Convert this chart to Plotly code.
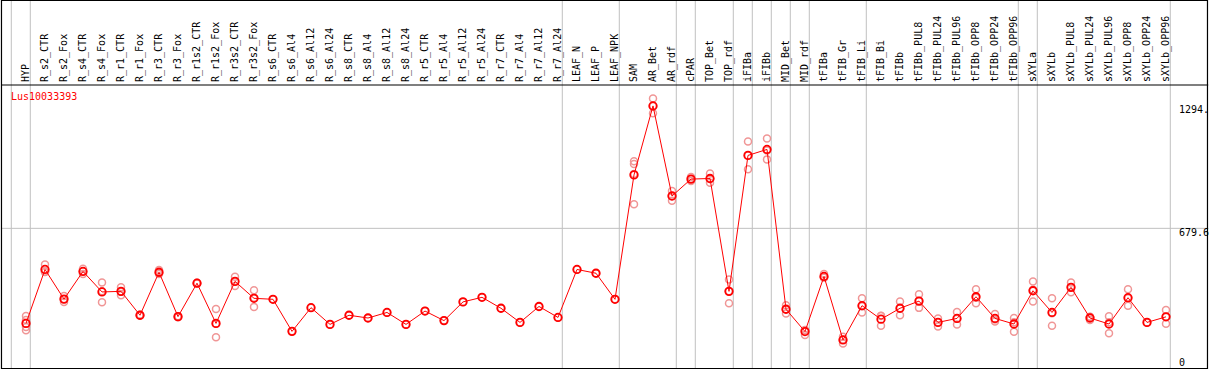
import plotly.graph_objects as go

gene = "Lus10033393"

categories = ["HYP", "R_s2_CTR", "R_s2_Fox", "R_s4_CTR", "R_s4_Fox", "R_r1_CTR", "R_r1_Fox",
              "R_r3_CTR", "R_r3_Fox", "R_r1s2_CTR", "R_r1s2_Fox", "R_r3s2_CTR", "R_r3s2_Fox",
              "R_s6_CTR", "R_s6_Al4", "R_s6_Al12", "R_s6_Al24", "R_s8_CTR", "R_s8_Al4",
              "R_s8_Al12", "R_s8_Al24", "R_r5_CTR", "R_r5_Al4", "R_r5_Al12", "R_r5_Al24",
              "R_r7_CTR", "R_r7_Al4", "R_r7_Al12", "R_r7_Al24", "LEAF_N", "LEAF_P", "LEAF_NPK",
              "SAM", "AR_Bet", "AR_rdf", "cPAR", "TOP_Bet", "TOP_rdf", "iFIBa", "iFIBb",
              "MID_Bet", "MID_rdf", "tFIBa", "tFIB_Gr", "tFIB_Li", "tFIB_Bi", "tFIBb",
              "tFIBb_PUL8", "tFIBb_PUL24", "tFIBb_PUL96", "tFIBb_OPP8", "tFIBb_OPP24",
              "tFIBb_OPP96", "sXYLa", "sXYLb", "sXYLb_PUL8", "sXYLb_PUL24", "sXYLb_PUL96",
              "sXYLb_OPP8", "sXYLb_OPP24", "sXYLb_OPP96"]

means = [202, 473, 324, 463, 360, 363, 243, 459, 236, 404, 202, 413, 328,
         323, 162, 281, 197, 243, 229, 257, 197, 264, 216, 310, 333, 278, 207, 287, 232,
         473, 454, 323,
         948, 1294.6, 842, 927, 930, 363, 1046, 1076, 273, 161,
         438, 119, 291, 223, 278, 314, 207, 227, 336, 227, 199,
         366, 257, 383, 229, 199, 331, 207, 235]

replicates = [
    [239, 219, 184, 168], [498, 462, 460], [340, 310, 323], [476, 450, 464],
    [408, 308, 364], [383, 344, 361], [245, 240, 244], [470, 450, 456],
    [238, 233, 237], [406, 402, 405], [274, 132, 200], [436, 390, 413],
    [368, 285, 331], [323], [162], [281], [197], [243], [229], [257], [197],
    [264], [216], [310], [333], [278], [207], [287], [232], [473], [454], [323],
    [1017, 1003, 952, 801], [1332, 1294, 1258], [867, 818, 842], [937, 917, 927],
    [955, 909, 927], [423, 303, 363], [1116, 976, 1046], [1131, 1026, 1071],
    [293, 252, 273], [144, 168, 169], [450, 432, 432], [135, 101, 120],
    [328, 257, 288], [241, 190, 239], [312, 243, 278], [348, 280, 314],
    [227, 186, 208], [259, 197, 225], [373, 303, 331], [249, 211, 222],
    [229, 160, 208], [413, 312, 371], [328, 190, 253], [408, 358, 383],
    [235, 219, 234], [238, 152, 208], [373, 291, 328], [207], [269, 200, 236]]

group_breaks = [-1, 0, 28, 31, 34, 35, 37, 38, 39, 40, 41, 44, 52, 53, 60]
y_ticks = [0, 679.6, 1294.6]
y_tick_text = ["0", "679.6", "1294."]

idx = list(range(len(categories)))
rep_x, rep_y = [], []
for i, reps in enumerate(replicates):
    for v in reps:
        rep_x.append(i)
        rep_y.append(v)

fig = go.Figure()
fig.add_trace(go.Scatter(x=rep_x, y=rep_y, mode="markers",
                         marker=dict(symbol="circle-open", size=7, color="rgb(240,150,150)",
                                     line=dict(width=1.5, color="rgb(240,150,150)")),
                         hoverinfo="skip", showlegend=False))
fig.add_trace(go.Scatter(x=idx, y=means, mode="lines+markers",
                         line=dict(color="#ff0000", width=1),
                         marker=dict(symbol="circle-open", size=7.5, color="#ff0000",
                                     line=dict(width=1.8, color="#ff0000")),
                         showlegend=False))

shapes = []
for k in group_breaks:
    shapes.append(dict(type="line", xref="x", yref="paper", x0=k + 0.226, x1=k + 0.226,
                       y0=0, y1=1.3, line=dict(color="#c0c0c0", width=1), layer="below"))
shapes.append(dict(type="line", xref="paper", yref="y", x0=0, x1=1.001, y0=679.6, y1=679.6,
                   line=dict(color="#c0c0c0", width=1), layer="below"))
# frame and header separator
shapes.append(dict(type="rect", xref="paper", yref="paper", x0=0.0004, x1=1.0004,
                   y0=0.0018, y1=1.2975, line=dict(color="black", width=1.2)))
shapes.append(dict(type="line", xref="paper", yref="paper", x0=0, x1=1.001, y0=1.0, y1=1.0,
                   line=dict(color="black", width=1.2)))

annotations = [dict(text=gene, xref="paper", yref="paper", x=8.3 / 1206, y=(369 - 96.7) / 284,
                    xanchor="left", yanchor="middle", showarrow=False,
                    font=dict(family="DejaVu Sans Mono", size=10, color="#ff0000"))]
shifts = [1.3, -3.7, -3.7]
for v, t, s in zip(y_ticks, y_tick_text, shifts):
    annotations.append(dict(text=t, xref="paper", yref="y", x=1176 / 1206, y=v, yshift=s,
                            xanchor="left", yanchor="middle", showarrow=False,
                            font=dict(family="DejaVu Sans Mono", size=10, color="black")))

fig.update_layout(
    width=1209, height=370,
    margin=dict(l=1, r=2, t=85, b=1, pad=0),
    paper_bgcolor="white", plot_bgcolor="white",
    shapes=shapes, annotations=annotations,
    showlegend=False,
    xaxis=dict(range=[-25 / 19, -25 / 19 + 1206 / 19], side="top", tickmode="array",
               tickvals=idx, ticktext=categories, tickangle=-90, ticks="",
               tickfont=dict(family="DejaVu Sans Mono", size=10, color="black"),
               showgrid=False, zeroline=False, showline=False, automargin=False,
               ticklabelstandoff=2),
    yaxis=dict(range=[-27.1, 1399.7], showticklabels=False, showgrid=False,
               zeroline=False, showline=False, automargin=False),
)

fig.write_html("out.html", config={"displayModeBar": False},
               post_script="document.body.style.margin='0';document.body.style.overflow='hidden';")
